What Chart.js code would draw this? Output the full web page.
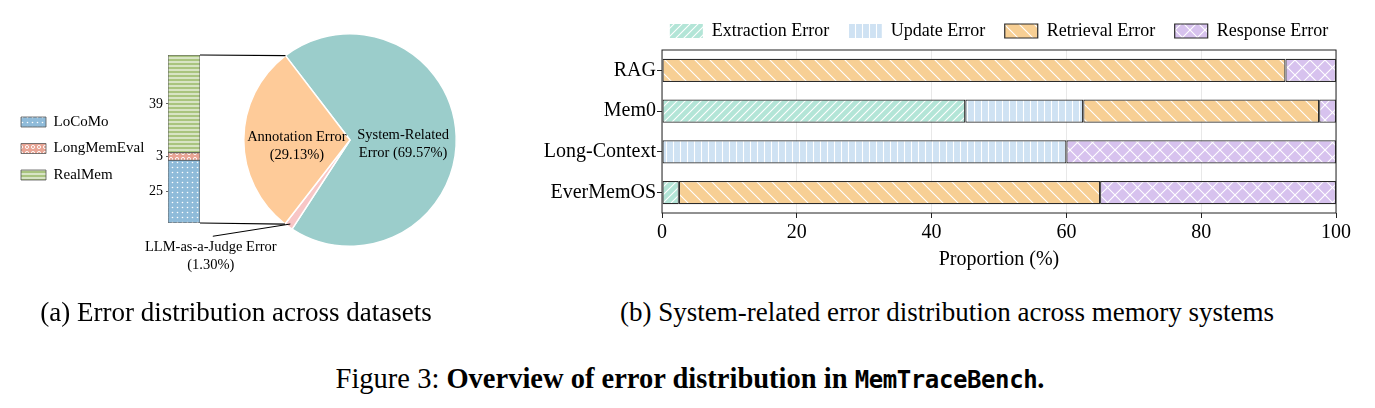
<!DOCTYPE html>
<html>
<head>
<meta charset="utf-8">
<script src="https://cdn.jsdelivr.net/npm/chart.js@4.4.1/dist/chart.umd.min.js"></script>
<style>
  html, body { margin: 0; padding: 0; background: #fff; overflow: hidden; width: 1375px; height: 408px; position: relative; }
  canvas { position: absolute; }
  .cap { position: absolute; font-family: "Liberation Serif", "Times New Roman", serif; color: #000; white-space: nowrap; font-size: 27px; text-align: center; }
  .fig { font-size: 28.5px; }
  .mono { font-family: "DejaVu Sans Mono", monospace; font-weight: bold; font-size: 24px; letter-spacing: -0.4px; }
</style>
</head>
<body>
<canvas id="datasetBar" width="215" height="280" style="left:0;top:0"></canvas>
<canvas id="errorPie" width="470" height="280" style="left:0;top:0"></canvas>
<canvas id="systemBar" width="938" height="280" style="left:530px;top:0"></canvas>
<div class="cap" style="left:0;width:472px;top:297px">(a) Error distribution across datasets</div>
<div class="cap" style="left:603px;width:688px;top:297px">(b) System-related error distribution across memory systems</div>
<div class="cap fig" style="left:0;width:1380px;top:363px">Figure 3: <b>Overview of error distribution in <span class="mono">MemTraceBench</span>.</b></div>
<script>
// (a) datasets behind the annotated errors
const datasetNames = ['LoCoMo', 'LongMemEval', 'RealMem'];
const datasetCounts = [25, 3, 39];

// (a) error categories, percent of all errors
const pieLabels = ['System-Related\nError', 'LLM-as-a-Judge Error', 'Annotation Error'];
const piePercents = [69.57, 1.30, 29.13];

// (b) system-related errors per memory system, percent
const systems = ['RAG', 'Mem0', 'Long-Context', 'EverMemOS'];
const errorTypes = ['Extraction Error', 'Update Error', 'Retrieval Error', 'Response Error'];
const extractionErr = [0, 45.0, 0, 2.5];
const updateErr = [0, 17.5, 60.0, 0];
const retrievalErr = [92.5, 35.0, 0, 62.5];
const responseErr = [7.5, 2.5, 40.0, 35.0];
const proportionTicks = [0, 20, 40, 60, 80, 100];

Chart.defaults.font.family = '"Liberation Serif", "Times New Roman", serif';
Chart.defaults.color = '#000';

// hatch fills like matplotlib
function hatch(bg, kind, s) {
  const c = document.createElement('canvas');
  c.width = s; c.height = s;
  const g = c.getContext('2d');
  g.fillStyle = bg; g.fillRect(0, 0, s, s);
  g.strokeStyle = '#fff'; g.fillStyle = '#fff'; g.lineWidth = 1.1;
  g.beginPath();
  if (kind === 'dot') {
    g.arc(s / 2, s / 2, 0.8, 0, Math.PI * 2); g.fill();
  } else if (kind === 'ring') {
    g.lineWidth = 0.9; g.arc(s / 2, s / 2, 1.6, 0, Math.PI * 2); g.stroke();
  } else if (kind === 'hline') {
    g.moveTo(0, s / 2); g.lineTo(s, s / 2); g.stroke();
  } else if (kind === 'vline') {
    g.moveTo(s / 2, 0); g.lineTo(s / 2, s); g.stroke();
  } else if (kind === 'fwd' || kind === 'cross') {
    g.moveTo(-1, s + 1); g.lineTo(s + 1, -1);
    g.moveTo(-1, 1); g.lineTo(1, -1);
    g.moveTo(s - 1, s + 1); g.lineTo(s + 1, s - 1);
    g.stroke();
  }
  if (kind === 'back' || kind === 'cross') {
    g.beginPath();
    g.moveTo(-1, -1); g.lineTo(s + 1, s + 1);
    g.moveTo(s - 1, -1); g.lineTo(s + 1, 1);
    g.moveTo(-1, s - 1); g.lineTo(1, s + 1);
    g.stroke();
  }
  return g.createPattern(c, 'repeat');
}

const datasetFills = [hatch('#8fbbd9', 'dot', 5), hatch('#e8a494', 'ring', 6), hatch('#a9c47f', 'hline', 4)];
const errorFills = [hatch('#b3e5d7', 'fwd', 8), hatch('#cfe2f3', 'vline', 7), hatch('#f7cf94', 'back', 15), hatch('#d7c2ee', 'cross', 15)];
const pieColors = ['#9bcdcb', '#f8c6c6', '#fecb99'];

// ---------- (a) stacked dataset bar ----------
const barCanvas = document.getElementById('datasetBar');
const datasetChart = new Chart(barCanvas, {
  type: 'bar',
  data: {
    labels: [''],
    datasets: datasetNames.map((name, i) => ({
      label: name,
      data: [datasetCounts[i]],
      backgroundColor: datasetFills[i],
      borderColor: '#555',
      borderWidth: 0.8,
      borderSkipped: false,
      barPercentage: 1,
      categoryPercentage: 1
    }))
  },
  options: {
    responsive: false,
    animation: false,
    layout: { autoPadding: false, padding: { left: 9.5, right: 15, top: 55, bottom: 57 } },
    plugins: {
      tooltip: { enabled: false },
      legend: {
        position: 'left',
        fullSize: false,
        maxWidth: 139,
        title: { display: true, text: '', padding: 0, font: { size: 19, lineHeight: 1 } },
        labels: { boxWidth: 25, boxHeight: 10, padding: 11.5, font: { size: 15 }, color: '#000' }
      }
    },
    scales: {
      x: { stacked: true, display: false },
      y: {
        stacked: true,
        min: 0,
        max: datasetCounts.reduce((a, b) => a + b, 0),
        afterBuildTicks: (scale) => {
          let acc = 0;
          scale.ticks = datasetCounts.map(v => { const t = { value: acc + v / 2 }; acc += v; return t; });
        },
        afterFit: (scale) => { scale.width = 19.5; },
        ticks: { callback: (v, i) => String(datasetCounts[i]), font: { size: 14 }, padding: 3, color: '#000' },
        grid: { drawOnChartArea: false, tickLength: 2, tickColor: '#666' },
        border: { display: false }
      }
    }
  }
});

// ---------- (a) pie of error sources ----------
const pieCanvas = document.getElementById('errorPie');

const pieTextPlugin = {
  id: 'pieText',
  afterDatasetsDraw(chart) {
    const ctx = chart.ctx;
    const meta = chart.getDatasetMeta(0);
    ctx.save();
    ctx.font = '14.5px "Liberation Serif", serif';
    ctx.fillStyle = '#000';
    ctx.textAlign = 'center';
    ctx.textBaseline = 'middle';
    meta.data.forEach((arc, i) => {
      const { x, y, startAngle, endAngle, outerRadius } = arc.getProps(['x', 'y', 'startAngle', 'endAngle', 'outerRadius'], true);
      const mid = (startAngle + endAngle) / 2;
      const lines = pieLabels[i].split('\n');
      const pct = '(' + piePercents[i].toFixed(2) + '%)';
      if (lines.length > 1) lines[lines.length - 1] += ' ' + pct; else lines.push(pct);
      let tx, ty;
      if (piePercents[i] < 5) {
        tx = x - 1.31 * outerRadius;
        ty = y + outerRadius + 1;
        const ax = x + outerRadius * 0.97 * Math.cos(mid);
        const ay = y + outerRadius * 0.97 * Math.sin(mid);
        ctx.strokeStyle = '#000';
        ctx.lineWidth = 1;
        ctx.beginPath();
        ctx.moveTo(ax, ay);
        ctx.lineTo(tx + 2, ty - 11);
        ctx.stroke();
      } else {
        tx = x + outerRadius * 0.5 * Math.cos(mid);
        ty = y + outerRadius * 0.5 * Math.sin(mid) - 3;
      }
      lines.forEach((ln, k) => ctx.fillText(ln, tx, ty + k * 18));
    });
    ctx.restore();
  }
};

const zoomLinesPlugin = {
  id: 'zoomLines',
  afterDraw(chart) {
    const ctx = chart.ctx;
    const dx = barCanvas.offsetLeft - pieCanvas.offsetLeft;
    const dy = barCanvas.offsetTop - pieCanvas.offsetTop;
    const topSeg = datasetChart.getDatasetMeta(datasetCounts.length - 1).data[0];
    const botSeg = datasetChart.getDatasetMeta(0).data[0];
    const right = topSeg.x + topSeg.width / 2 + dx;
    const barTop = topSeg.y + dy;
    const barBottom = botSeg.base + dy;
    const arc = chart.getDatasetMeta(0).data[2];
    const { x, y, startAngle, endAngle, outerRadius } = arc.getProps(['x', 'y', 'startAngle', 'endAngle', 'outerRadius'], true);
    ctx.save();
    ctx.strokeStyle = '#000';
    ctx.lineWidth = 1.2;
    ctx.beginPath();
    ctx.moveTo(right, barTop);
    ctx.lineTo(x + outerRadius * Math.cos(endAngle), y + outerRadius * Math.sin(endAngle));
    ctx.moveTo(right, barBottom);
    ctx.lineTo(x + outerRadius * Math.cos(startAngle), y + outerRadius * Math.sin(startAngle));
    ctx.stroke();
    ctx.restore();
  }
};

new Chart(pieCanvas, {
  type: 'pie',
  data: {
    labels: pieLabels,
    datasets: [{ data: piePercents, backgroundColor: pieColors, borderColor: '#fff', borderWidth: 1.5 }]
  },
  options: {
    responsive: false,
    animation: false,
    rotation: -37.4,
    layout: { autoPadding: false, padding: { left: 243, right: 13, top: 33, bottom: 33 } },
    plugins: { legend: { display: false }, tooltip: { enabled: false } }
  },
  plugins: [pieTextPlugin, zoomLinesPlugin]
});

// ---------- (b) horizontal stacked bars ----------
const framePlugin = {
  id: 'frame',
  afterDatasetsDraw(chart) {
    const { ctx, chartArea: a } = chart;
    ctx.save();
    ctx.strokeStyle = '#222';
    ctx.lineWidth = 1;
    ctx.strokeRect(a.left, a.top, a.right - a.left, a.bottom - a.top);
    ctx.restore();
  }
};

const errorSeries = [extractionErr, updateErr, retrievalErr, responseErr];
new Chart(document.getElementById('systemBar'), {
  type: 'bar',
  data: {
    labels: systems,
    datasets: errorTypes.map((name, i) => ({
      label: name,
      data: errorSeries[i],
      backgroundColor: errorFills[i],
      borderColor: '#2b2b2b',
      borderWidth: (c) => (c.type === 'data' && !c.raw) ? 0 : 1.2,
      borderSkipped: false,
      barPercentage: 0.57,
      categoryPercentage: 1
    }))
  },
  options: {
    indexAxis: 'y',
    responsive: false,
    animation: false,
    layout: { autoPadding: false, padding: { left: 0, right: 0, top: 2.5, bottom: 6 } },
    plugins: {
      tooltip: { enabled: false },
      legend: {
        position: 'top',
        labels: { boxWidth: 33, boxHeight: 14, padding: 19.5, font: { size: 18 }, color: '#000' }
      }
    },
    scales: {
      x: {
        stacked: true,
        min: 0,
        max: 100,
        afterBuildTicks: (scale) => { scale.ticks = proportionTicks.map(v => ({ value: v })); },
        ticks: { font: { size: 20 }, padding: 3, color: '#000' },
        grid: { color: '#e8e8e8', tickLength: 5, tickColor: '#222' },
        border: { display: false },
        title: { display: true, text: 'Proportion (%)', font: { size: 20 }, padding: { top: 0, bottom: 2 }, color: '#000' }
      },
      y: {
        stacked: true,
        afterFit: (scale) => { scale.width = 132; },
        ticks: { font: { size: 20 }, padding: 1, color: '#000' },
        grid: { drawOnChartArea: false, offset: false, tickLength: 5, tickColor: '#222' },
        border: { display: false }
      },
      // empty right box, same width as the label column, keeps the legend centred over the plot
      yBalance: {
        type: 'category',
        position: 'right',
        afterFit: (scale) => { scale.width = 132; },
        ticks: { display: false },
        grid: { display: false },
        border: { display: false }
      }
    }
  },
  plugins: [framePlugin]
});
</script>
</body>
</html>
